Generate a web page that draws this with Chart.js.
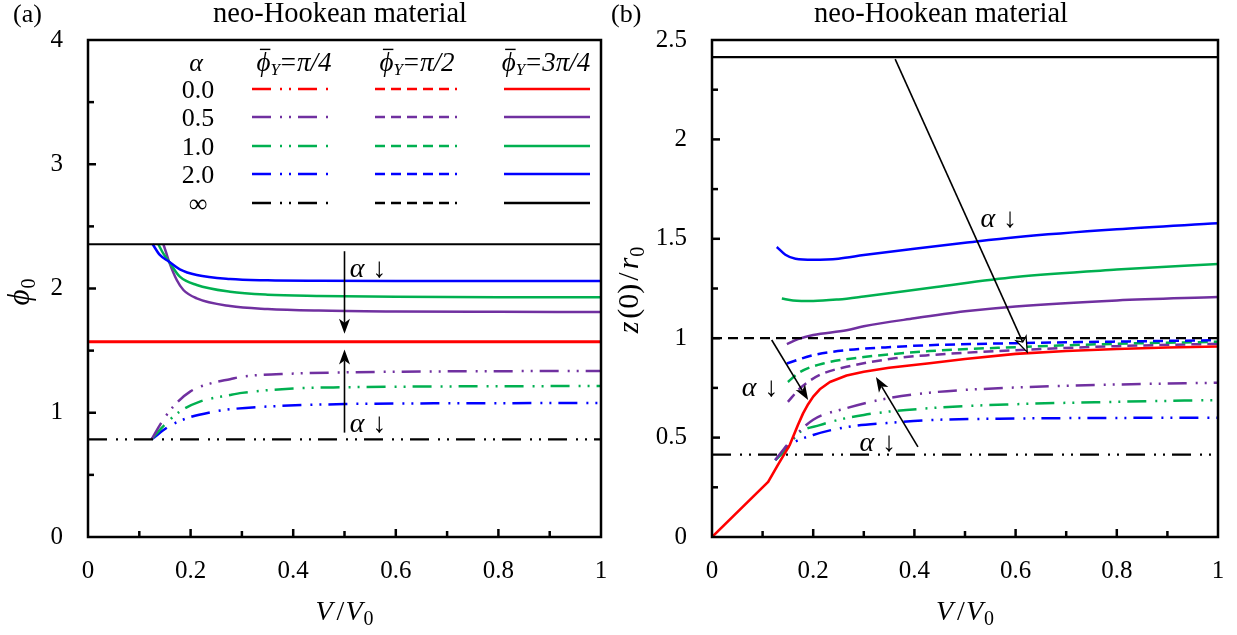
<!DOCTYPE html>
<html><head><meta charset="utf-8">
<script src="https://cdn.jsdelivr.net/npm/chart.js@4.4.1/dist/chart.umd.min.js"></script>
<style>
html,body{margin:0;padding:0;background:#fff;}
#wrap{position:relative;width:1237px;height:635px;overflow:hidden;background:#fff;}
#ca{position:absolute;left:0;top:0;}
#cb{position:absolute;left:604px;top:0;}
</style></head><body>
<div id="wrap"><canvas id="ca" width="618" height="635"></canvas><canvas id="cb" width="633" height="635"></canvas></div>
<script>
// ================= DATA =================
const xTicks = [0, 0.2, 0.4, 0.6, 0.8, 1];
const aYTicks = [0, 1, 2, 3, 4];
const bYTicks = [0, 0.5, 1, 1.5, 2, 2.5];
const alphaLabels = ['0.0', '0.5', '1.0', '2.0', '\u221E'];
const phiYLabels = ['\u03C0/4', '\u03C0/2', '3\u03C0/4'];

// ---- panel (a): phi0 vs V/V0 ----
const aFullV = [0, 1];
const aInf34 = [2.356, 2.356];     // alpha = inf, phiY = 3pi/4
const aZero34 = [1.571, 1.571];    // alpha = 0, phiY = 3pi/4
const aInf14 = [0.785, 0.785];     // alpha = inf, phiY = pi/4

const aBlue34V = [0.126, 0.14, 0.158, 0.179, 0.212, 0.277, 0.35, 0.45, 0.6, 0.8, 1.0];
const aBlue34Y = [2.356, 2.27, 2.216, 2.154, 2.108, 2.076, 2.066, 2.062, 2.06, 2.06, 2.06];
const aGreen34V = [0.137, 0.147, 0.158, 0.179, 0.212, 0.277, 0.35, 0.45, 0.6, 0.8, 1.0];
const aGreen34Y = [2.356, 2.28, 2.216, 2.095, 2.028, 1.974, 1.95, 1.94, 1.933, 1.93, 1.93];
const aPurple34V = [0.147, 0.153, 0.158, 0.173, 0.186, 0.212, 0.277, 0.35, 0.45, 0.6, 0.8, 1.0];
const aPurple34Y = [2.356, 2.28, 2.216, 2.068, 1.988, 1.921, 1.859, 1.835, 1.822, 1.815, 1.812, 1.81];

const aPurple14V = [0.124, 0.143, 0.166, 0.199, 0.244, 0.277, 0.3, 0.4, 0.5, 0.7, 1.0];
const aPurple14Y = [0.786, 0.92, 1.049, 1.17, 1.242, 1.27, 1.29, 1.315, 1.325, 1.333, 1.336];
const aGreen14V = [0.124, 0.147, 0.179, 0.218, 0.277, 0.3, 0.4, 0.5, 0.7, 1.0];
const aGreen14Y = [0.786, 0.893, 1.01, 1.09, 1.143, 1.16, 1.195, 1.205, 1.212, 1.215];
const aBlue14V = [0.124, 0.157, 0.192, 0.244, 0.277, 0.35, 0.5, 0.7, 1.0];
const aBlue14Y = [0.786, 0.888, 0.955, 1.008, 1.028, 1.05, 1.07, 1.076, 1.078];

// ---- panel (b): z(0)/r0 vs V/V0 ----
const bFullV = [0, 1];
const bInf34 = [2.414, 2.414];
const bInf12 = [1.0, 1.0];
const bInf14 = [0.414, 0.414];

const bRedV = [0, 0.111, 0.13, 0.154, 0.17, 0.18, 0.19, 0.2, 0.213, 0.233, 0.266, 0.3, 0.35, 0.43, 0.5, 0.6, 0.7, 0.8, 0.9, 1.0];
const bRedY = [0, 0.277, 0.362, 0.465, 0.565, 0.622, 0.668, 0.706, 0.743, 0.78, 0.812, 0.831, 0.851, 0.874, 0.895, 0.921, 0.936, 0.946, 0.953, 0.958];

const bBlue34V = [0.128, 0.145, 0.165, 0.2, 0.25, 0.3, 0.4, 0.5, 0.6, 0.8, 1.0];
const bBlue34Y = [1.459, 1.42, 1.40, 1.395, 1.40, 1.418, 1.45, 1.48, 1.508, 1.548, 1.578];
const bGreen34V = [0.138, 0.16, 0.2, 0.25, 0.3, 0.443, 0.6, 0.8, 1.0];
const bGreen34Y = [1.2, 1.19, 1.187, 1.195, 1.21, 1.258, 1.308, 1.345, 1.373];
const bPurple34V = [0.148, 0.17, 0.2, 0.266, 0.3, 0.4, 0.5, 0.6, 0.8, 1.0];
const bPurple34Y = [0.97, 0.995, 1.016, 1.04, 1.06, 1.1, 1.135, 1.16, 1.19, 1.207];

const bBlue12V = [0.148, 0.2, 0.266, 0.365, 0.43, 0.6, 0.8, 1.0];
const bBlue12Y = [0.873, 0.915, 0.94, 0.957, 0.965, 0.975, 0.983, 0.99];
const bGreen12V = [0.15, 0.174, 0.22, 0.3, 0.43, 0.6, 0.8, 1.0];
const bGreen12Y = [0.78, 0.83, 0.873, 0.905, 0.935, 0.955, 0.972, 0.982];
const bPurple12V = [0.15, 0.174, 0.213, 0.266, 0.365, 0.43, 0.6, 0.8, 1.0];
const bPurple12Y = [0.68, 0.748, 0.815, 0.856, 0.9, 0.915, 0.94, 0.96, 0.972];

const bPurple14V = [0.125, 0.154, 0.2, 0.266, 0.332, 0.43, 0.6, 0.8, 1.0];
const bPurple14Y = [0.387, 0.48, 0.59, 0.648, 0.69, 0.726, 0.752, 0.767, 0.776];
const bGreen14V = [0.125, 0.154, 0.167, 0.213, 0.3, 0.43, 0.6, 0.8, 1.0];
const bGreen14Y = [0.387, 0.46, 0.513, 0.563, 0.614, 0.648, 0.668, 0.68, 0.689];
const bBlue14V = [0.125, 0.154, 0.2, 0.266, 0.345, 0.43, 0.6, 0.8, 1.0];
const bBlue14Y = [0.387, 0.463, 0.513, 0.553, 0.573, 0.588, 0.596, 0.599, 0.6];

// annotation arrows, in data units [x1,y1,x2,y2,open]
const aArrows = [[0.5, 2.30, 0.5, 1.635, false], [0.5, 0.84, 0.5, 1.51, false]];
const aArrowLabels = [[0.546, 2.165], [0.546, 0.917]];
const bArrows = [[0.362, 2.404, 0.623, 0.93, true], [0.118, 0.991, 0.19, 0.689, false], [0.407, 0.453, 0.324, 0.805, false]];
const bArrowLabels = [[0.567, 1.605], [0.095, 0.755], [0.328, 0.478]];

// ================= STYLE =================
const SERIF = "'Liberation Serif','Times New Roman',serif";
const COL = { red: '#ff0000', purple: '#7030a0', green: '#00b050', blue: '#0000ff', black: '#000000' };
const rowColors = [COL.red, COL.purple, COL.green, COL.blue, COL.black];
const DDOT = [19, 9, 2, 7, 2, 7];
const DASH = [10, 6];
const colDash = [DDOT, DASH, []];
const TICK_FONT = 25;

function pts(xs, ys) { return xs.map((x, i) => ({ x: x, y: ys[i] })); }
function ds(xs, ys, color, dash, width, straight) {
  return { data: pts(xs, ys), borderColor: color, borderDash: dash, borderWidth: width,
    showLine: true, pointRadius: 0, pointHoverRadius: 0, fill: false,
    cubicInterpolationMode: straight ? 'default' : 'monotone', tension: 0, borderCapStyle: 'butt', borderJoinStyle: 'round' };
}
function fnt(size, italic) { return (italic ? 'italic ' : '') + size + 'px ' + SERIF; }
function runsWidth(ctx, runs) {
  let w = 0;
  for (const r of runs) { ctx.font = fnt(r.s, r.i); w += ctx.measureText(r.t).width + (r.g || 0); }
  return w;
}
function drawRuns(ctx, x, y, runs, align) {
  const w = runsWidth(ctx, runs);
  let cx = align === 'center' ? x - w / 2 : (align === 'right' ? x - w : x);
  ctx.textAlign = 'left'; ctx.textBaseline = 'alphabetic'; ctx.fillStyle = '#000';
  for (const r of runs) {
    ctx.font = fnt(r.s, r.i);
    const rw = ctx.measureText(r.t).width;
    ctx.fillText(r.t, cx, y + (r.dy || 0));
    if (r.bar) {
      ctx.save(); ctx.strokeStyle = '#000'; ctx.lineWidth = 1.4; ctx.beginPath();
      ctx.moveTo(cx + rw * 0.25, y - r.s * 0.80); ctx.lineTo(cx + rw * 1.0, y - r.s * 0.80); ctx.stroke(); ctx.restore();
    }
    cx += rw + (r.g || 0);
  }
}
function arrow(ctx, x1, y1, x2, y2, open) {
  const ang = Math.atan2(y2 - y1, x2 - x1);
  const L = 15, W = 5.5, notch = 4;
  const ca = Math.cos(ang), sa = Math.sin(ang);
  ctx.save(); ctx.strokeStyle = '#000'; ctx.fillStyle = '#000'; ctx.lineWidth = 1.6; ctx.setLineDash([]);
  ctx.beginPath(); ctx.moveTo(x1, y1);
  ctx.lineTo(x2 - (L - notch) * ca, y2 - (L - notch) * sa); ctx.stroke();
  const bx = x2 - L * ca, by = y2 - L * sa;
  ctx.beginPath(); ctx.moveTo(x2, y2);
  ctx.lineTo(bx - W * sa, by + W * ca);
  ctx.lineTo(x2 - (L - notch) * ca, y2 - (L - notch) * sa);
  ctx.lineTo(bx + W * sa, by - W * ca);
  ctx.closePath();
  if (open) { ctx.fillStyle = '#fff'; ctx.fill(); ctx.lineWidth = 1.3; ctx.stroke(); }
  else { ctx.fill(); }
  ctx.restore();
}
const alphaDown = [{ t: '\u03B1', s: 28, i: true, g: 8 }, { t: '\u2193', s: 28 }];

function decoPlugin(cfg) {
  return {
    id: 'deco' + cfg.name,
    afterDatasetsDraw(chart) {
      const ctx = chart.ctx, a = chart.chartArea, xs = chart.scales.x, ys = chart.scales.y;
      ctx.save();
      // inward ticks
      ctx.strokeStyle = '#000'; ctx.lineWidth = 2.5; ctx.setLineDash([]);
      for (let k = 1; k < 10; k++) {
        const v = k / 10, px = xs.getPixelForValue(v), len = (k % 2 === 0) ? 8 : 6;
        ctx.beginPath(); ctx.moveTo(px, a.bottom); ctx.lineTo(px, a.bottom - len); ctx.stroke();
      }
      const n = Math.round((cfg.ymax) / cfg.minor);
      for (let k = 1; k < n; k++) {
        const v = k * cfg.minor, py = ys.getPixelForValue(v), len = (k % 2 === 0) ? 8 : 6;
        ctx.beginPath(); ctx.moveTo(a.left, py); ctx.lineTo(a.left + len, py); ctx.stroke();
      }
      // frame
      ctx.lineWidth = 2.5; ctx.strokeRect(a.left, a.top, a.right - a.left, a.bottom - a.top);
      // arrows
      for (const ar of cfg.arrows) {
        arrow(ctx, xs.getPixelForValue(ar[0]), ys.getPixelForValue(ar[1]), xs.getPixelForValue(ar[2]), ys.getPixelForValue(ar[3]), ar[4]);
      }
      for (const lb of cfg.arrowLabels) {
        drawRuns(ctx, xs.getPixelForValue(lb[0]), ys.getPixelForValue(lb[1]) + 9, alphaDown, 'center');
      }
      // legend
      if (cfg.legend) {
        const hy = 71;
        drawRuns(ctx, 196, hy, [{ t: '\u03B1', s: 26, i: true }], 'center');
        const hx = [294, 417, 546];
        for (let c = 0; c < 3; c++) {
          drawRuns(ctx, hx[c], hy, [{ t: '\u03D5', s: 27, i: true, bar: true }, { t: 'Y', s: 17, i: true, dy: 4, g: 1 },
            { t: '=', s: 27, g: 1 }, { t: phiYLabels[c], s: 27, i: true }], 'center');
        }
        const rowsY = [89, 117, 146, 174, 203];
        const lx = [[252, 331], [375, 457], [504, 590]];
        for (let r = 0; r < 5; r++) {
          drawRuns(ctx, 198, rowsY[r] + 9, [{ t: alphaLabels[r], s: 26 }], 'center');
          for (let c = 0; c < 3; c++) {
            ctx.strokeStyle = rowColors[r]; ctx.lineWidth = 2.6; ctx.setLineDash(colDash[c]);
            ctx.beginPath(); ctx.moveTo(lx[c][0], rowsY[r]); ctx.lineTo(lx[c][1], rowsY[r]); ctx.stroke();
          }
        }
        ctx.setLineDash([]);
      }
      // titles
      drawRuns(ctx, cfg.titleX, 22, [{ t: 'neo-Hookean material', s: 28.5 }], 'center');
      drawRuns(ctx, cfg.panelX, 22, [{ t: cfg.panel, s: 26 }], 'left');
      // x axis title
      drawRuns(ctx, (a.left + a.right) / 2, 620, [{ t: 'V', s: 28, i: true, g: 4 }, { t: '/', s: 28, g: 1 }, { t: 'V', s: 28, i: true, g: 1 }, { t: '0', s: 20, dy: 5 }], 'center');
      // y axis title
      ctx.save(); ctx.translate(cfg.ytx, cfg.yty); ctx.rotate(-Math.PI / 2);
      drawRuns(ctx, 0, 0, cfg.yTitle, 'center');
      ctx.restore();
      ctx.restore();
    }
  };
}

function makeChart(id, datasets, ymax, padRight, yWidth, cfg) {
  return new Chart(document.getElementById(id), {
    type: 'scatter',
    data: { datasets: datasets },
    options: {
      responsive: false, animation: false, devicePixelRatio: 1,
      layout: { padding: { top: 40, right: padRight, left: 0, bottom: 0 } },
      plugins: { legend: { display: false }, tooltip: { enabled: false }, title: { display: false } },
      scales: {
        x: { type: 'linear', min: 0, max: 1,
          afterFit(s) { s.height = 98; s.paddingLeft = 0; s.paddingRight = 0; },
          afterBuildTicks(s) { s.ticks = xTicks.map(v => ({ value: v })); },
          grid: { display: true, drawOnChartArea: false, drawTicks: false },
          border: { display: false },
          ticks: { color: '#000', padding: 19, font: { family: SERIF, size: TICK_FONT }, maxRotation: 0, autoSkip: false,
            callback: v => String(v) } },
        y: { type: 'linear', min: 0, max: ymax,
          afterFit(s) { s.width = yWidth; s.paddingTop = 0; s.paddingBottom = 0; },
          afterBuildTicks(s) { s.ticks = cfg.yTicks.map(v => ({ value: v })); },
          grid: { display: true, drawOnChartArea: false, drawTicks: false },
          border: { display: false },
          ticks: { color: '#000', padding: 25, font: { family: SERIF, size: TICK_FONT }, autoSkip: false,
            callback: v => String(v) } }
      }
    },
    plugins: [decoPlugin(cfg)]
  });
}

const dsA = [
  ds(aFullV, aZero34, COL.red, [], 3),
  ds(aFullV, aInf34, COL.black, [], 2.2),
  ds(aFullV, aInf14, COL.black, DDOT, 2.2),
  ds(aBlue34V, aBlue34Y, COL.blue, [], 2.5),
  ds(aGreen34V, aGreen34Y, COL.green, [], 2.5),
  ds(aPurple34V, aPurple34Y, COL.purple, [], 2.5),
  ds(aPurple14V, aPurple14Y, COL.purple, DDOT, 2.5),
  ds(aGreen14V, aGreen14Y, COL.green, DDOT, 2.5),
  ds(aBlue14V, aBlue14Y, COL.blue, DDOT, 2.5)
];
const dsB = [
  ds(bRedV, bRedY, COL.red, [], 2.6, true),
  ds(bFullV, bInf34, COL.black, [], 2.2),
  ds(bFullV, bInf12, COL.black, DASH, 2.2),
  ds(bFullV, bInf14, COL.black, DDOT, 2.2),
  ds(bBlue34V, bBlue34Y, COL.blue, [], 2.5),
  ds(bGreen34V, bGreen34Y, COL.green, [], 2.5),
  ds(bPurple34V, bPurple34Y, COL.purple, [], 2.5),
  ds(bBlue12V, bBlue12Y, COL.blue, DASH, 2.5),
  ds(bGreen12V, bGreen12Y, COL.green, DASH, 2.5),
  ds(bPurple12V, bPurple12Y, COL.purple, DASH, 2.5),
  ds(bPurple14V, bPurple14Y, COL.purple, DDOT, 2.5),
  ds(bGreen14V, bGreen14Y, COL.green, DDOT, 2.5),
  ds(bBlue14V, bBlue14Y, COL.blue, DDOT, 2.5)
];

makeChart('ca', dsA, 4, 17, 88, {
  name: 'A', ymax: 4, minor: 0.5, yTicks: aYTicks, arrows: aArrows, arrowLabels: aArrowLabels, legend: true,
  titleX: 340, panelX: 13, panel: '(a)', ytx: 29, yty: 292,
  yTitle: [{ t: '\u03D5', s: 31, i: true, g: 1 }, { t: '0', s: 20, dy: 6 }]
});
makeChart('cb', dsB, 2.5, 19, 108, {
  name: 'B', ymax: 2.5, minor: 0.25, yTicks: bYTicks, arrows: bArrows, arrowLabels: bArrowLabels, legend: false,
  titleX: 941 - 604, panelX: 611 - 604, panel: '(b)', ytx: 638 - 604, yty: 290,
  yTitle: [{ t: 'z', s: 30, i: true, g: 3 }, { t: '(0)', s: 30, g: 3 }, { t: '/', s: 30, g: 3 }, { t: 'r', s: 30, i: true, g: 1 }, { t: '0', s: 20, dy: 6 }]
});
</script>
</body></html>
